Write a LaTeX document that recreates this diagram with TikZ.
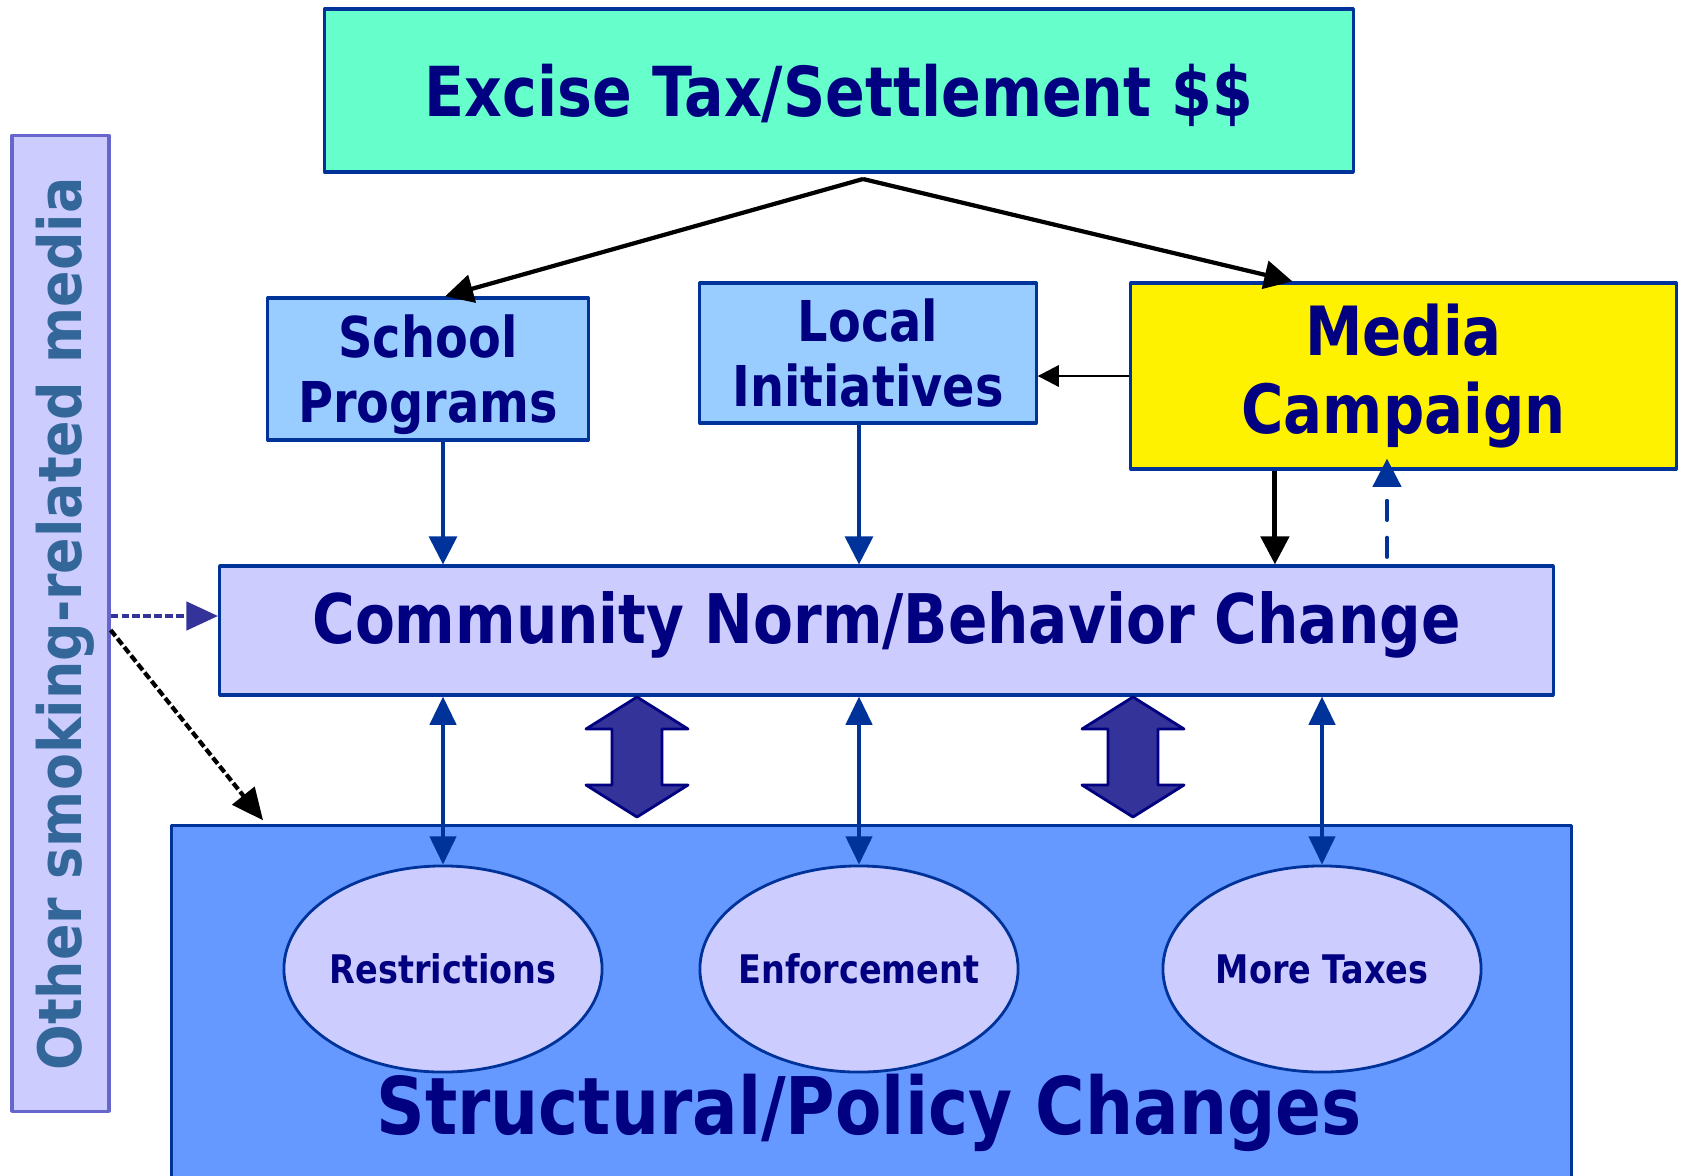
\documentclass[tikz,border=0pt]{standalone}
\usepackage{fontspec}
\setmainfont{DejaVu Sans}[FakeStretch=0.85]
\newfontfamily\sidefont{DejaVu Sans}[FakeStretch=0.9]
\usetikzlibrary{arrows.meta,shapes.geometric}
\definecolor{taxgreen}{HTML}{66FFCC}
\definecolor{lightblue}{HTML}{99CCFF}
\definecolor{lavender}{HTML}{CCCCFF}
\definecolor{policyblue}{HTML}{6699FF}
\definecolor{navytext}{HTML}{000080}
\definecolor{edgeblue}{HTML}{003399}
\definecolor{arrowblue}{HTML}{333399}
\definecolor{steel}{HTML}{336699}
\definecolor{barline}{HTML}{6666CC}
\begin{document}
\begin{tikzpicture}[x=0.01cm, y=-0.01cm, line join=round,
    box/.style={draw=edgeblue, line width=0.9pt, inner sep=0pt, align=center, text=navytext},
    oval/.style={ellipse, draw=edgeblue, fill=lavender, line width=0.8pt, minimum width=3.18cm,
      minimum height=2.06cm, inner xsep=-0.2cm, inner ysep=0pt, text=navytext,
      font=\fontsize{11.2}{14}\selectfont\bfseries},
    feed/.style={-{Triangle[length=8pt,width=8pt]}, line width=1.2pt},
    link/.style={{Triangle[length=8pt,width=7.5pt]}-{Triangle[length=8pt,width=7.5pt]}, edgeblue, line width=0.9pt},
    media/.style={dash pattern=on 2.2pt off 0.9pt, line width=1.2pt, -{Triangle[length=9pt,width=8pt]}}]
  \useasboundingbox (0,0) rectangle (1681,1175);
  % boxes
  \node[box, draw=barline, fill=lavender, minimum width=0.97cm, minimum height=9.75cm] (bar) at (60.5,623.5) {};
  \node[rotate=90, anchor=base, text=steel, font=\sidefont\fontsize{17}{20}\selectfont\bfseries] (barlabel) at (81,624) {Other smoking-related media};
  \node[box, fill=taxgreen, minimum width=10.28cm, minimum height=1.63cm, text depth=0pt,
    font=\fontsize{19.6}{22}\selectfont\bfseries] (excise) at (839,90.5) {Excise Tax/Settlement \$\$};
  \node[box, fill=lightblue, minimum width=3.20cm, minimum height=1.42cm, text depth=0pt,
    font=\fontsize{16}{18.5}\selectfont\bfseries] (school) at (428,369) {School\\Programs};
  \node[box, fill=lightblue, minimum width=3.36cm, minimum height=1.40cm,
    font=\fontsize{16}{18.5}\selectfont\bfseries] (local) at (868,353) {Local\\Initiatives};
  \node[box, fill=yellow, minimum width=5.45cm, minimum height=1.86cm,
    font=\fontsize{19.3}{22}\selectfont\bfseries] (media) at (1403.5,376) {Media\\Campaign};
  \node[box, fill=lavender, minimum width=13.33cm, minimum height=1.29cm, text depth=0.26cm,
    font=\fontsize{19.45}{22}\selectfont\bfseries] (comm) at (886.5,630.5) {Community Norm/Behavior Change};
  \node[box, fill=policyblue, minimum width=13.99cm, minimum height=3.74cm] (policy) at (871.5,1013) {};
  \node[text=navytext, font=\fontsize{22.6}{26}\selectfont\bfseries] (policylabel) at (869,1113) {Structural/Policy Changes};
  \node[oval] (restr) at (443,969) {Restrictions};
  \node[oval] (enf) at (859,969) {Enforcement};
  \node[oval] (tax) at (1322,969) {More Taxes};
  % funding arrows
  \coordinate (fork) at (863,179);
  \draw[feed] (fork) -- ([xshift=0.17cm]school.north);
  \draw[feed] (fork) -- ([xshift=-1.11cm]media.north);
  \draw[-{Triangle[length=6pt,width=6pt]}, line width=0.8pt] (media.west) -- (local.east |- media.west);
  \draw[feed, edgeblue, line width=0.9pt] (restr.north |- school.south) -- (restr.north |- comm.north);
  \draw[feed, edgeblue, line width=0.9pt] (enf.north |- local.south) -- (enf.north |- comm.north);
  \draw[feed, line width=1.4pt] ([xshift=-1.285cm]media.south) -- ([xshift=-1.285cm]media.south |- comm.north);
  \draw[feed, edgeblue, line width=1.1pt, dash pattern=on 5.5pt off 5pt, line cap=round]
    ([xshift=-0.165cm]media.south |- 0,557) -- ([xshift=-0.165cm,yshift=0.12cm]media.south);
  % community <-> policy
  \foreach \n in {restr,enf,tax} \draw[link] (\n.north |- comm.south) -- (\n.north);
  \foreach \cx in {637,1133}
    \filldraw[fill=arrowblue, draw=navytext, line width=0.8pt]
      (\cx,697) -- (\cx+51,729) -- (\cx+25,729) -- (\cx+25,785) -- (\cx+51,785) -- (\cx,817)
      -- (\cx-51,785) -- (\cx-25,785) -- (\cx-25,729) -- (\cx-51,729) -- cycle;
  % other media
  \draw[media, arrowblue] ([yshift=0.075cm]bar.east) coordinate (m1) -- (comm.west |- m1);
  \draw[media, black] ([yshift=-0.065cm]bar.east) -- ([xshift=0.93cm,yshift=0.04cm]policy.north west);
\end{tikzpicture}
\end{document}
